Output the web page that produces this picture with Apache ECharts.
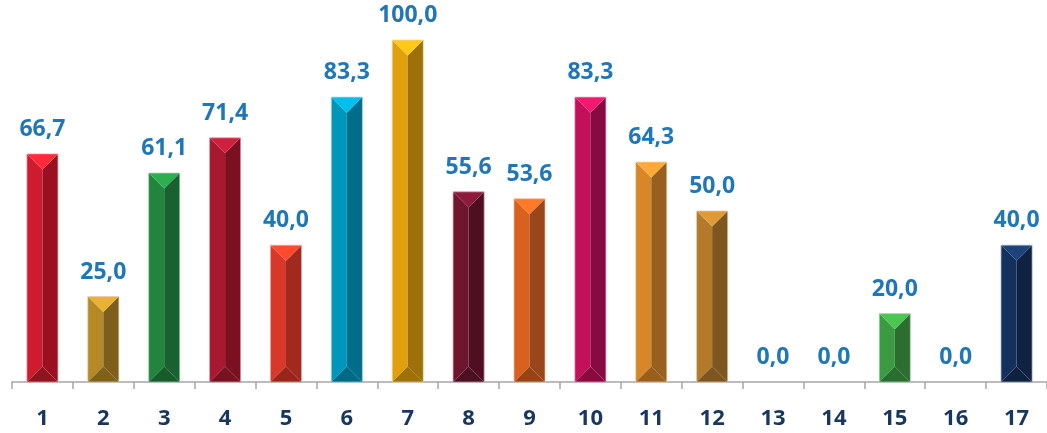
<!DOCTYPE html>
<html><head><meta charset="utf-8">
<script src="https://cdn.jsdelivr.net/npm/echarts@6/dist/echarts.min.js"></script>
<style>html,body{margin:0;padding:0;background:#fff}#c{width:1047px;height:433px}</style>
</head><body><div id="c"></div>
<script>
const categories = ['1','2','3','4','5','6','7','8','9','10','11','12','13','14','15','16','17'];
const values = [66.7, 25.0, 61.1, 71.4, 40.0, 83.3, 100.0, 55.6, 53.6, 83.3, 64.3, 50.0, 0.0, 0.0, 20.0, 0.0, 40.0];

const frontColors = ['#CE1B2E','#B58A26','#21853D','#A8192F','#D7382A','#0096BC','#E0A00E','#6E1530','#D8611E','#C2105A','#D7862A','#B47A2C','#888888','#888888','#3B9B43','#888888','#14305C'];
const topColors   = ['#FF2A3A','#E9B230','#2DAF50','#D02040','#FF4A30','#00BFEF','#FFC81A','#8E1B3C','#FF7A28','#F21A70','#FFAA33','#DF9A38','#AAAAAA','#AAAAAA','#4CC653','#AAAAAA','#1E427A'];
const sideColors  = ['#9A1020','#7F5E1C','#196130','#7A1022','#A02A1E','#006D8A','#9E700A','#4E0F22','#99461A','#870B40','#98601E','#7E5620','#666666','#666666','#2A6E30','#666666','#0F2242'];

function mix(a, b, t) {
  const pa = [1,3,5].map(k => parseInt(a.substr(k,2),16));
  const pb = [1,3,5].map(k => parseInt(b.substr(k,2),16));
  return 'rgb(' + pa.map((v,k) => Math.round(v + (pb[k]-v)*t)).join(',') + ')';
}

const chart = echarts.init(document.getElementById('c'));
chart.setOption({
  animation: false,
  grid: { left: 12, right: 0, top: 40, bottom: 51 },
  xAxis: {
    type: 'category',
    data: categories,
    axisLine: { lineStyle: { color: '#A6A6A6', width: 1.5 } },
    axisTick: { show: true, length: 7, lineStyle: { color: '#A6A6A6', width: 1.5 } },
    axisLabel: { margin: 26, fontFamily: 'Open Sans', fontWeight: 'bold', fontSize: 22, color: '#17375E' }
  },
  yAxis: { type: 'value', min: 0, max: 100, show: false },
  series: [
    {
      type: 'custom',
      data: values.map((v, i) => [i, v]),
      encode: { x: 0, y: 1 },
      renderItem: function (params, api) {
        const i = api.value(0), v = api.value(1);
        if (!v) return null;
        const b = api.coord([i, 0]);
        const t = api.coord([i, v]);
        const w = api.size([1, 0])[0] * 0.51;
        const cx = b[0], x0 = cx - w / 2, x1 = cx + w / 2, y0 = t[1], y1 = b[1];
        const h = Math.min(w / 2, (y1 - y0) / 2);
        const f = frontColors[i], tp = topColors[i], sd = sideColors[i];
        return {
          type: 'group',
          children: [
            { type: 'polygon', shape: { points: [[x0, y0], [cx, y0 + h], [cx, y1 - h], [x0, y1]] }, style: { fill: f } },
            { type: 'polygon', shape: { points: [[x1, y0], [cx, y0 + h], [cx, y1 - h], [x1, y1]] }, style: { fill: sd } },
            { type: 'polygon', shape: { points: [[x0, y0], [x1, y0], [cx, y0 + h]] }, style: { fill: tp } },
            { type: 'polygon', shape: { points: [[x0, y1], [x1, y1], [cx, y1 - h]] }, style: { fill: mix(f, '#000000', 0.3) } },
            { type: 'rect', shape: { x: x0, y: y0, width: w, height: y1 - y0 }, style: { fill: 'none', stroke: mix(f, '#ffffff', 0.6), lineWidth: 1, opacity: 0.7 } }
          ]
        };
      },
      z: 2
    },
    {
      type: 'bar',
      data: values,
      barWidth: '51%',
      silent: true,
      itemStyle: { color: 'rgba(0,0,0,0)' },
      label: {
        show: true, position: 'top', distance: 13,
        formatter: p => Number(p.value).toFixed(1).replace('.', ','),
        fontFamily: 'Open Sans', fontWeight: 'bold', fontSize: 23, color: '#1F77B8'
      },
      z: 3
    }
  ]
});
</script></body></html>
